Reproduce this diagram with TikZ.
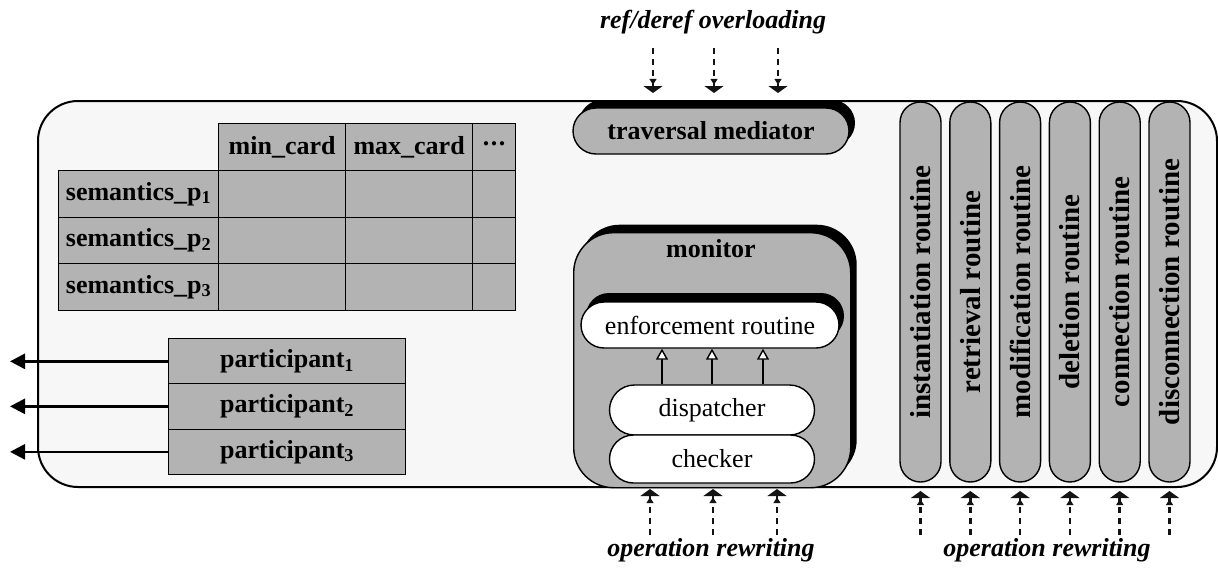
\documentclass[tikz,border=0pt]{standalone}
\usepackage{fontspec}
\setmainfont{Liberation Serif}
\usetikzlibrary{arrows.meta,shapes.misc,shadows}

\definecolor{panel}{HTML}{F7F7F7}
\definecolor{cellgray}{HTML}{B3B3B3}

\tikzset{
  frame/.style={draw, line width=2pt, fill=panel, rounded corners=40pt, inner sep=0pt},
  cell/.style={draw, fill=cellgray, line width=1.2pt, inner sep=0pt, font=\fontsize{26}{30}\selectfont\bfseries},
  pill/.style={draw, line width=1.4pt, inner sep=0pt},
  blackshadow/.style={general shadow={fill=black, shadow xshift=6pt, shadow yshift=8pt}},
  feed/.style={line width=2.6pt, dash pattern=on 6pt off 5pt, gray!15!black,
    -{Triangle[width=7pt,length=6pt,sep=1.2pt]Triangle[width=19pt,length=7pt]}},
  outarrow/.style={line width=2.6pt, -{Triangle[width=15pt,length=15pt]}},
  uparrow/.style={line width=1.4pt, -{Triangle[open,width=12pt,length=11pt,fill=white]}},
  lbl/.style={font=\fontsize{26}{30}\selectfont\bfseries\itshape},
}

\begin{document}
\begin{tikzpicture}[x=1pt, y=-1pt, font=\fontsize{26}{30}\selectfont]
\useasboundingbox (0,0) rectangle (1218,570);

% outer component
\node[frame, minimum width=1179pt, minimum height=386pt, anchor=north west] (frame) at (37,100) {};

% traversal mediator
\node[pill, fill=cellgray, blackshadow, rounded corners=23pt, minimum width=276pt, minimum height=46pt, font=\fontsize{26}{30}\selectfont\bfseries] (trav) at (711,131) {traversal mediator};

% cardinality table
\node[cell, minimum width=127pt, minimum height=47pt, anchor=north west] (hmin) at (218,123) {min\_card};
\node[cell, minimum width=127pt, minimum height=47pt, anchor=north west] (hmax) at (345,123) {max\_card};
\node[cell, minimum width=43pt, minimum height=47pt, anchor=north west] (hdots) at (472,123) {\raisebox{0.5ex}{\fontsize{11}{14}\selectfont\bfseries $\bullet\bullet\bullet$}};

\foreach \r/\y in {1/170, 2/216.5, 3/263} {
  \node[cell, minimum width=160pt, minimum height=46.5pt, anchor=north west] (s\r) at (58,\y) {semantics\_p\textsubscript{\r}};
  \node[cell, minimum width=127pt, minimum height=46.5pt, anchor=north west] (a\r) at (218,\y) {};
  \node[cell, minimum width=127pt, minimum height=46.5pt, anchor=north west] (b\r) at (345,\y) {};
  \node[cell, minimum width=43pt, minimum height=46.5pt, anchor=north west] (c\r) at (472,\y) {};
}

% participants
\foreach \r/\y in {1/338, 2/383, 3/428.5} {
  \node[cell, minimum width=237pt, minimum height=45.5pt, anchor=north west] (p\r) at (168,\y) {participant\textsubscript{\r}};
  \coordinate (o\r) at (p\r.west -| 10,0);
  \draw[outarrow] (p\r.west) -- (o\r);
}

% monitor
\node[pill, fill=cellgray, blackshadow, rounded corners=40pt, minimum width=277pt, minimum height=255pt, anchor=north west] (mon) at (573,232) {};
\node[font=\fontsize{26}{30}\selectfont\bfseries, anchor=north] (montitle) at (711,236) {monitor};
\node[pill, fill=white, general shadow={fill=black, shadow xshift=5pt, shadow yshift=9pt}, rounded corners=23pt, minimum width=258pt, minimum height=46pt] (enf) at (710,325) {enforcement routine};
\node[pill, fill=white, rounded corners=25pt, minimum width=205pt, minimum height=50pt] (disp) at (712,410) {dispatcher};
\node[pill, fill=white, rounded corners=24pt, minimum width=205pt, minimum height=48pt] (chk) at (712,459) {checker};
\foreach \dx in {-50,0,51}
  \draw[uparrow] ([xshift=\dx pt]disp.north) -- ([xshift=\dx pt]disp.north |- enf.south);

% operation routines
\foreach \i/\t in {0/instantiation routine, 1/retrieval routine, 2/modification routine, 3/deletion routine, 4/connection routine, 5/disconnection routine} {
  \node[pill, fill=cellgray, rounded corners=20.5pt, minimum width=41pt, minimum height=380pt] (r\i) at (920.5+49.8*\i,292) {};
  \node[rotate=90, font=\fontsize{29}{32}\selectfont\bfseries] at (r\i.center) {\t};
}

% incoming hooks on the mediator
\foreach \x in {653,714,778} {
  \coordinate (t\x) at (\x,48);
  \draw[feed] (t\x) -- (\x,93);
}
\node[lbl] (reflbl) at (713,22) {ref/deref overloading};

% incoming hooks on the monitor
\foreach \x in {650,713,777} {
  \coordinate (m\x) at (\x,535);
  \draw[feed] (m\x) -- (\x,489);
}
\node[lbl] (oplbl1) at (711,550) {operation rewriting};

% incoming hooks on the routines
\foreach \i in {0,...,5} {
  \coordinate (q\i) at (r\i.south |- 0,535);
  \draw[feed] (q\i) -- (r\i.south |- 0,491);
}
\node[lbl] (oplbl2) at (1047,550) {operation rewriting};
\end{tikzpicture}
\end{document}
